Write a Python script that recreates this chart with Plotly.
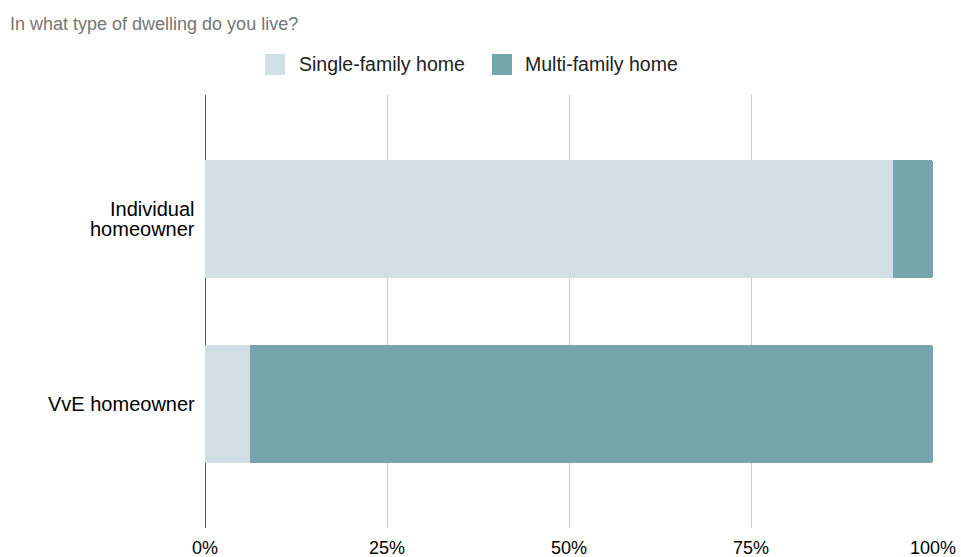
import plotly.graph_objects as go

categories = ["Individual<br>homeowner", "VvE homeowner"]
series_names = ["Single-family home", "Multi-family home"]
single_family = [94.5, 6.2]
multi_family = [5.5, 93.8]
tick_vals = [0, 25, 50, 75, 100]
tick_text = ["0%", "25%", "50%", "75%", "100%"]

colors = ["#D1DEE3", "#76A5AD"]
font_family = "Liberation Sans, Arial, Helvetica, sans-serif"

# plot area in pixels
W, H = 961, 557
L, R, T, B = 205, 28, 95, 29
plot_w, plot_h = W - L - R, H - T - B

fig = go.Figure()
for name, vals, col in zip(series_names, [single_family, multi_family], colors):
    fig.add_trace(go.Bar(
        y=categories, x=vals, name=name, orientation="h",
        marker=dict(color=col, line=dict(width=0)), showlegend=False,
        hovertemplate="%{y}: %{x}%<extra>" + name + "</extra>",
    ))

annotations = []
shapes = []

# category labels, one annotation per text line for tight line spacing
line_gap = 19.5
for i, cat in enumerate(categories):
    lines = cat.split("<br>")
    n = len(lines)
    for j, ln in enumerate(lines):
        annotations.append(dict(
            x=0, y=i, xref="x", yref="y", text=ln, showarrow=False,
            xanchor="right", yanchor="middle", xshift=-8,
            yshift=((n - 1) / 2 - j) * line_gap,
            font=dict(size=20, color="#000000", family=font_family),
        ))

# legend: square swatches followed by series names
legend_items = [(265, 299), (492, 525)]
legend_y = 64.5
for (sx, tx), name, col in zip(legend_items, series_names, colors):
    shapes.append(dict(
        type="rect", xref="paper", yref="paper",
        x0=(sx - L) / plot_w, x1=(sx + 20 - L) / plot_w,
        y0=(H - B - (legend_y + 10.5)) / plot_h, y1=(H - B - (legend_y - 10.5)) / plot_h,
        fillcolor=col, line=dict(width=0), layer="above",
    ))
    annotations.append(dict(
        x=(tx - L) / plot_w, y=(H - B - legend_y) / plot_h, xref="paper", yref="paper",
        text=name, showarrow=False, xanchor="left", yanchor="middle", xshift=-2,
        font=dict(size=19.5, color="#222222", family=font_family),
    ))

# black baseline at 0%
shapes.append(dict(type="line", xref="x", yref="paper", x0=0, x1=0, y0=0, y1=1,
                   line=dict(color="#222222", width=1.5), layer="below"))

fig.update_layout(
    width=W, height=H,
    barmode="stack", bargap=0.36, barcornerradius=3,
    paper_bgcolor="white", plot_bgcolor="white",
    margin=dict(l=L, r=R, t=T, b=B, autoexpand=False),
    font=dict(family=font_family, size=17, color="#000000"),
    showlegend=False,
    title=dict(text="In what type of dwelling do you live?", x=0.0104, xanchor="left",
               y=1 - 24 / H, yanchor="middle",
               font=dict(size=18, color="#757575", family=font_family)),
    xaxis=dict(range=[0, 100], tickvals=tick_vals, ticktext=tick_text,
               showgrid=True, gridcolor="#CCCCCC", gridwidth=1,
               zeroline=False, showline=False, ticks="outside", ticklen=3,
               tickcolor="rgba(0,0,0,0)", tickfont=dict(size=18, color="#000000"),
               automargin=False, fixedrange=True),
    yaxis=dict(range=[1.67, -0.67], autorange=False, showgrid=False, zeroline=False,
               showline=False, showticklabels=False, ticks="",
               automargin=False, fixedrange=True),
    annotations=annotations,
    shapes=shapes,
)

fig.write_html("out.html")
